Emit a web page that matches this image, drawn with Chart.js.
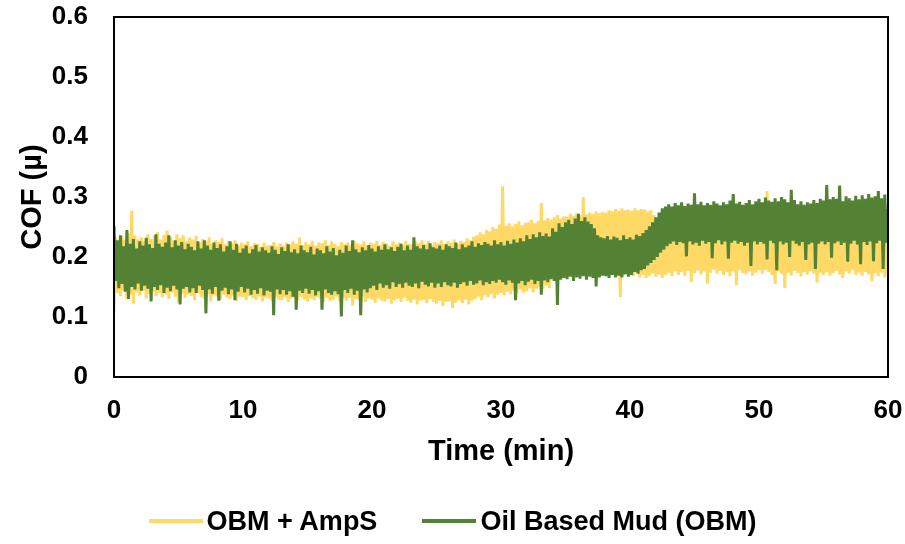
<!DOCTYPE html>
<html>
<head>
<meta charset="utf-8">
<script src="https://cdn.jsdelivr.net/npm/chart.js@4.4.1/dist/chart.umd.min.js"></script>
<style>
  html, body { margin: 0; padding: 0; background: #ffffff; }
  #wrap { position: relative; width: 905px; height: 544px; }
  #legend {
    position: absolute; left: 0; width: 905px; top: 503px; height: 36px;
    display: flex; justify-content: center; align-items: center;
    font-family: 'Liberation Sans', Arial, sans-serif; font-weight: bold;
    font-size: 27px; color: #000000; white-space: nowrap;
  }
  .item { display: flex; align-items: center; }
  .item + .item { margin-left: 45px; }
  .swatch { display: inline-block; width: 54px; height: 4px; margin-right: 4px; }
</style>
</head>
<body>
<div id="wrap"><canvas id="cof"></canvas><div id="legend"></div></div>
<script>
// Friction test log: COF sampled every 0.125 min over a 60 min run.
const SAMPLE_MIN = 0.125;

const xTickLabels = ['0', '10', '20', '30', '40', '50', '60'];
const yTickLabels = ['0', '0.1', '0.2', '0.3', '0.4', '0.5', '0.6'];

const seriesNames = ['OBM + AmpS', 'Oil Based Mud (OBM)'];

// OBM + AmpS, one row per minute
const cofAmpS = [
  0.107,0.232, 0.140,0.226, 0.135,0.235, 0.143,0.228,
  0.130,0.240, 0.138,0.277, 0.122,0.236, 0.141,0.229,
  0.136,0.233, 0.144,0.227, 0.131,0.238, 0.139,0.230,
  0.142,0.236, 0.135,0.241, 0.140,0.229, 0.133,0.237,
  0.138,0.244, 0.130,0.234, 0.141,0.228, 0.134,0.238,
  0.124,0.231, 0.139,0.236, 0.132,0.226, 0.137,0.233,
  0.135,0.229, 0.128,0.235, 0.140,0.224, 0.133,0.230,
  0.131,0.227, 0.138,0.233, 0.126,0.222, 0.136,0.228,
  0.134,0.225, 0.129,0.231, 0.137,0.221, 0.132,0.227,
  0.130,0.223, 0.136,0.228, 0.127,0.219, 0.134,0.224,
  0.133,0.221, 0.128,0.226, 0.135,0.218, 0.131,0.223,
  0.129,0.222, 0.134,0.217, 0.126,0.224, 0.132,0.219,
  0.131,0.220, 0.127,0.225, 0.134,0.218, 0.129,0.223,
  0.128,0.219, 0.133,0.224, 0.125,0.221, 0.131,0.226,
  0.132,0.222, 0.127,0.233, 0.134,0.220, 0.129,0.225,
  0.126,0.221, 0.131,0.227, 0.128,0.219, 0.133,0.224,
  0.130,0.223, 0.125,0.228, 0.132,0.220, 0.127,0.226,
  0.129,0.222, 0.134,0.218, 0.126,0.225, 0.131,0.221,
  0.127,0.224, 0.132,0.220, 0.119,0.227, 0.130,0.223,
  0.128,0.221, 0.133,0.226, 0.125,0.219, 0.131,0.224,
  0.129,0.222, 0.124,0.227, 0.131,0.220, 0.127,0.225,
  0.126,0.223, 0.130,0.219, 0.122,0.226, 0.128,0.221,
  0.130,0.224, 0.125,0.220, 0.132,0.227, 0.127,0.222,
  0.124,0.221, 0.129,0.226, 0.121,0.223, 0.127,0.228,
  0.128,0.222, 0.123,0.227, 0.130,0.220, 0.125,0.225,
  0.122,0.223, 0.127,0.228, 0.118,0.221, 0.125,0.226,
  0.126,0.224, 0.115,0.229, 0.124,0.222, 0.128,0.227,
  0.123,0.225, 0.129,0.231, 0.121,0.228, 0.127,0.234,
  0.130,0.236, 0.134,0.241, 0.128,0.238, 0.136,0.245,
  0.133,0.243, 0.138,0.250, 0.131,0.247, 0.137,0.254,
  0.140,0.318, 0.136,0.252, 0.142,0.256, 0.138,0.251,
  0.144,0.255, 0.139,0.259, 0.146,0.253, 0.141,0.257,
  0.143,0.258, 0.148,0.262, 0.141,0.256, 0.147,0.260,
  0.150,0.290, 0.146,0.261, 0.152,0.265, 0.148,0.262,
  0.170,0.266, 0.165,0.270, 0.172,0.264, 0.168,0.268,
  0.171,0.267, 0.175,0.272, 0.169,0.269, 0.174,0.273,
  0.172,0.270, 0.177,0.300, 0.170,0.271, 0.176,0.274,
  0.173,0.272, 0.178,0.276, 0.171,0.273, 0.177,0.275,
  0.175,0.274, 0.179,0.278, 0.172,0.276, 0.178,0.280,
  0.176,0.277, 0.133,0.281, 0.174,0.278, 0.179,0.279,
  0.172,0.277, 0.168,0.281, 0.174,0.278, 0.166,0.280,
  0.170,0.279, 0.165,0.276, 0.168,0.278, 0.172,0.270,
  0.167,0.255, 0.171,0.250, 0.165,0.258, 0.170,0.253,
  0.174,0.260, 0.168,0.257, 0.176,0.262, 0.170,0.259,
  0.175,0.261, 0.169,0.256, 0.177,0.263, 0.158,0.258,
  0.173,0.262, 0.178,0.257, 0.171,0.260, 0.176,0.264,
  0.156,0.259, 0.174,0.263, 0.179,0.258, 0.172,0.261,
  0.177,0.264, 0.170,0.259, 0.175,0.262, 0.168,0.257,
  0.176,0.263, 0.153,0.258, 0.178,0.265, 0.173,0.260,
  0.171,0.261, 0.176,0.266, 0.169,0.259, 0.174,0.263,
  0.178,0.264, 0.172,0.260, 0.179,0.310, 0.175,0.262,
  0.170,0.265, 0.155,0.259, 0.176,0.263, 0.172,0.267,
  0.148,0.260, 0.174,0.264, 0.169,0.261, 0.177,0.266,
  0.173,0.262, 0.168,0.265, 0.175,0.259, 0.171,0.263,
  0.176,0.266, 0.172,0.261, 0.157,0.264, 0.174,0.260,
  0.170,0.263, 0.175,0.267, 0.169,0.262, 0.173,0.265,
  0.177,0.261, 0.171,0.266, 0.165,0.263, 0.176,0.268,
  0.172,0.264, 0.178,0.260, 0.170,0.265, 0.174,0.262,
  0.169,0.267, 0.175,0.263, 0.171,0.266, 0.160,0.261,
  0.173,0.265, 0.168,0.262, 0.174,0.267, 0.166,0.264,
  0.170
];

// Oil Based Mud (OBM), one row per minute
const cofObm = [
  0.252,0.160, 0.228,0.148, 0.236,0.155, 0.218,0.142,
  0.245,0.130, 0.222,0.150, 0.230,0.146, 0.214,0.156,
  0.226,0.144, 0.219,0.152, 0.232,0.147, 0.221,0.126,
  0.215,0.150, 0.238,0.145, 0.222,0.153, 0.217,0.140,
  0.224,0.149, 0.236,0.143, 0.216,0.152, 0.228,0.146,
  0.219,0.121, 0.225,0.147, 0.213,0.150, 0.222,0.141,
  0.217,0.148, 0.211,0.140, 0.226,0.152, 0.214,0.145,
  0.228,0.106, 0.219,0.146, 0.212,0.139, 0.224,0.150,
  0.215,0.127, 0.221,0.144, 0.209,0.149, 0.218,0.138,
  0.226,0.146, 0.212,0.128, 0.222,0.142, 0.207,0.150,
  0.214,0.141, 0.219,0.147, 0.206,0.137, 0.213,0.145,
  0.220,0.139, 0.209,0.148, 0.216,0.136, 0.211,0.144,
  0.207,0.142, 0.218,0.103, 0.212,0.146, 0.205,0.138,
  0.216,0.145, 0.210,0.137, 0.221,0.143, 0.208,0.134,
  0.213,0.112, 0.206,0.144, 0.219,0.140, 0.211,0.147,
  0.208,0.139, 0.217,0.145, 0.204,0.136, 0.214,0.143,
  0.211,0.112, 0.206,0.146, 0.218,0.140, 0.209,0.137,
  0.215,0.143, 0.203,0.138, 0.212,0.101, 0.207,0.145,
  0.219,0.140, 0.210,0.147, 0.228,0.137, 0.213,0.144,
  0.208,0.103, 0.216,0.146, 0.211,0.141, 0.220,0.148,
  0.214,0.152, 0.209,0.145, 0.218,0.156, 0.212,0.149,
  0.221,0.153, 0.213,0.147, 0.216,0.158, 0.210,0.150,
  0.217,0.155, 0.222,0.149, 0.211,0.157, 0.219,0.152,
  0.212,0.150, 0.233,0.156, 0.218,0.148, 0.214,0.159,
  0.220,0.154, 0.213,0.151, 0.223,0.157, 0.216,0.149,
  0.214,0.156, 0.219,0.150, 0.212,0.158, 0.221,0.153,
  0.218,0.151, 0.215,0.157, 0.224,0.149, 0.213,0.155,
  0.221,0.158, 0.216,0.152, 0.219,0.160, 0.226,0.154,
  0.217,0.156, 0.223,0.161, 0.220,0.153, 0.225,0.158,
  0.222,0.155, 0.219,0.160, 0.228,0.157, 0.221,0.162,
  0.225,0.158, 0.219,0.154, 0.227,0.161, 0.222,0.157,
  0.229,0.128, 0.224,0.156, 0.231,0.160, 0.226,0.153,
  0.236,0.159, 0.230,0.162, 0.238,0.155, 0.233,0.160,
  0.241,0.137, 0.235,0.161, 0.239,0.158, 0.234,0.163,
  0.248,0.160, 0.242,0.120, 0.256,0.162, 0.250,0.165,
  0.258,0.163, 0.262,0.167, 0.255,0.160, 0.264,0.166,
  0.272,0.164, 0.260,0.168, 0.266,0.162, 0.259,0.167,
  0.255,0.165, 0.248,0.151, 0.236,0.166, 0.233,0.169,
  0.231,0.168, 0.235,0.165, 0.229,0.170, 0.234,0.166,
  0.232,0.169, 0.228,0.166, 0.236,0.171, 0.230,0.167,
  0.233,0.170, 0.229,0.175, 0.237,0.172, 0.235,0.178,
  0.240,0.180, 0.245,0.186, 0.251,0.190, 0.258,0.195,
  0.266,0.200, 0.274,0.207, 0.281,0.212, 0.284,0.218,
  0.288,0.222, 0.284,0.226, 0.290,0.220, 0.286,0.225,
  0.291,0.223, 0.285,0.201, 0.289,0.226, 0.287,0.221,
  0.306,0.224, 0.288,0.219, 0.292,0.227, 0.286,0.222,
  0.290,0.225, 0.287,0.198, 0.293,0.223, 0.289,0.228,
  0.286,0.221, 0.291,0.226, 0.288,0.197, 0.294,0.224,
  0.305,0.227, 0.289,0.222, 0.292,0.225, 0.287,0.219,
  0.290,0.224, 0.295,0.185, 0.288,0.226, 0.293,0.221,
  0.297,0.225, 0.291,0.222, 0.299,0.196, 0.294,0.227,
  0.292,0.223, 0.298,0.178, 0.293,0.226, 0.300,0.221,
  0.296,0.224, 0.291,0.200, 0.312,0.227, 0.295,0.222,
  0.288,0.219, 0.293,0.225, 0.287,0.195, 0.291,0.221,
  0.289,0.224, 0.295,0.180, 0.290,0.222, 0.297,0.226,
  0.294,0.221, 0.320,0.225, 0.296,0.199, 0.300,0.223,
  0.297,0.226, 0.319,0.220, 0.293,0.224, 0.301,0.192,
  0.298,0.222, 0.294,0.227, 0.302,0.221, 0.296,0.188,
  0.303,0.225, 0.297,0.220, 0.305,0.226, 0.299,0.193,
  0.301,0.223, 0.310,0.227, 0.298,0.180, 0.304,0.224,
  0.280
];

const seriesColors = ['#FFD966', '#548235'];

const toPoints = (vals) => vals.map((y, i) => ({ x: i * SAMPLE_MIN, y }));

const AXIS_FONT = "'Liberation Sans', Arial, sans-serif";

// Black frame around the plotting area
const plotFrame = {
  id: 'plotFrame',
  afterDatasetsDraw(chart) {
    const { ctx, chartArea: a } = chart;
    ctx.save();
    ctx.strokeStyle = '#000000';
    ctx.lineWidth = 2;
    ctx.strokeRect(a.left, a.top, a.right - a.left, a.bottom - a.top);
    ctx.restore();
  }
};

const chart = new Chart(document.getElementById('cof'), {
  type: 'line',
  data: {
    datasets: [
      {
        label: seriesNames[0],
        data: toPoints(cofAmpS),
        borderColor: seriesColors[0],
        backgroundColor: seriesColors[0],
        borderWidth: 3,
        pointRadius: 0,
        order: 2
      },
      {
        label: seriesNames[1],
        data: toPoints(cofObm),
        borderColor: seriesColors[1],
        backgroundColor: seriesColors[1],
        borderWidth: 3,
        pointRadius: 0,
        order: 1
      }
    ]
  },
  plugins: [plotFrame],
  options: {
    responsive: true,
    maintainAspectRatio: false,
    animation: false,
    events: [],
    layout: { padding: { left: 0, right: 17, top: 17, bottom: 75 } },
    elements: { line: { tension: 0, borderJoinStyle: 'miter' } },
    scales: {
      x: {
        type: 'linear',
        min: 0,
        max: 60,
        grid: { display: false, drawTicks: false },
        border: { display: false },
        ticks: {
          stepSize: 10,
          padding: 18,
          color: '#000000',
          font: { family: AXIS_FONT, size: 26, weight: 'bold' },
          maxRotation: 0,
          callback: (v, i) => xTickLabels[i]
        },
        title: {
          display: true,
          text: 'Time (min)',
          color: '#000000',
          padding: { top: 0, bottom: 0 },
          font: { family: AXIS_FONT, size: 29, weight: 'bold' }
        },
        afterFit(scale) {
          scale.height = 92;
          scale.paddingLeft = 0;
          scale.paddingRight = 0;
        }
      },
      y: {
        min: 0,
        max: 0.6,
        grid: { display: false, drawTicks: false },
        border: { display: false },
        ticks: {
          stepSize: 0.1,
          padding: 26,
          color: '#000000',
          font: { family: AXIS_FONT, size: 26, weight: 'bold' },
          callback: (v, i) => yTickLabels[i]
        },
        title: {
          display: true,
          text: 'COF (µ)',
          color: '#000000',
          padding: { top: 16, bottom: 0 },
          font: { family: AXIS_FONT, size: 29, weight: 'bold' }
        },
        afterFit(scale) {
          scale.width = 114;
          scale.paddingTop = 0;
          scale.paddingBottom = 0;
        }
      }
    },
    plugins: {
      legend: { display: false },
      tooltip: { enabled: false }
    }
  }
});

// Legend row built from the chart's own datasets
const legendEl = document.getElementById('legend');
chart.data.datasets.forEach((ds) => {
  const item = document.createElement('span');
  item.className = 'item';
  const sw = document.createElement('span');
  sw.className = 'swatch';
  sw.style.background = ds.borderColor;
  const txt = document.createElement('span');
  txt.textContent = ds.label;
  item.appendChild(sw);
  item.appendChild(txt);
  legendEl.appendChild(item);
});
</script>
</body>
</html>
